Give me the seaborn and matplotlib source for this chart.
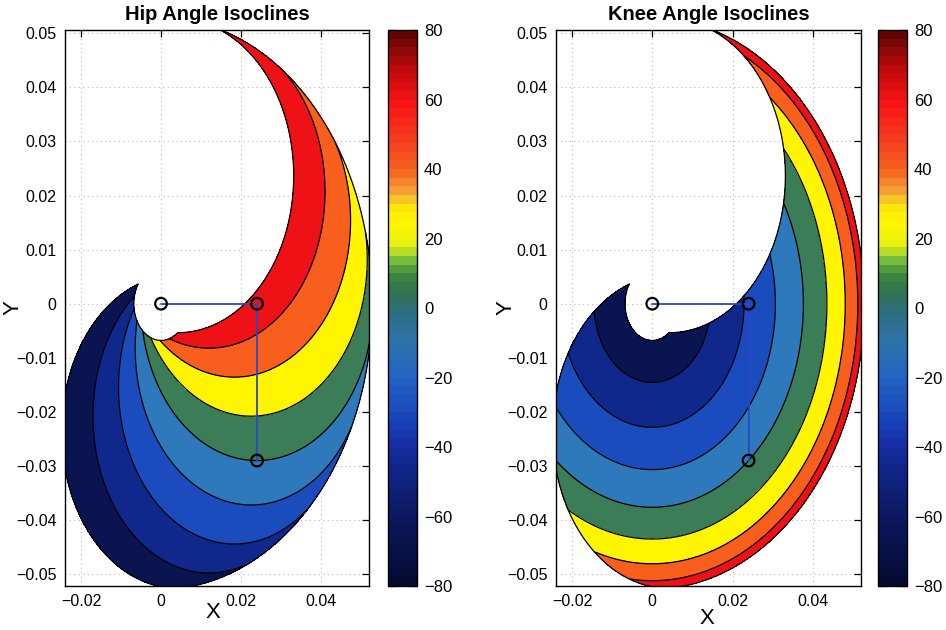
import numpy as np
import pandas as pd
import matplotlib
matplotlib.use("Agg")
import matplotlib.pyplot as plt
import seaborn as sns
from matplotlib.colors import LinearSegmentedColormap, ListedColormap, Normalize
from matplotlib.cm import ScalarMappable
from matplotlib.ticker import FixedLocator, FuncFormatter

# ---------------- data ----------------
THIGH_LENGTH = 0.024          # hip -> knee
SHANK_LENGTH = 0.029          # knee -> foot
HIP_RANGE_DEG = [-80, 80]     # hip angle span of the workspace
KNEE_RANGE_DEG = [-80, 80]    # knee angle span (0 = shank perpendicular to thigh)
ISOCLINE_LEVELS = [-80, -60, -40, -20, 0, 20, 40, 60, 80]
LEG_JOINT_X = [0.0, 0.024, 0.024]     # hip, knee, foot
LEG_JOINT_Y = [0.0, 0.0, -0.029]
PANEL_TITLES = ["Hip Angle Isoclines", "Knee Angle Isoclines"]
X_TICKS = [-0.02, 0, 0.02, 0.04]
Y_TICKS = [-0.05, -0.04, -0.03, -0.02, -0.01, 0, 0.01, 0.02, 0.03, 0.04, 0.05]
CBAR_TICKS = [-80, -60, -40, -20, 0, 20, 40, 60, 80]

# ---------------- styling ----------------
sns.set_style("white")
plt.rcParams["font.family"] = ["Liberation Sans", "DejaVu Sans"]
plt.rcParams["axes.unicode_minus"] = True
plt.rcParams["text.color"] = "black"
plt.rcParams["axes.labelcolor"] = "black"

BAND_COLORS = ["#0a1450", "#10288c", "#1a4cbe", "#2e78bc", "#3a7d57",
               "#fff500", "#f85f1c", "#ee1216"]
CBAR_ANCHORS = [(-80, (5, 10, 50)), (-70, (10, 18, 75)), (-60, (12, 25, 100)),
                (-50, (15, 35, 130)), (-40, (20, 45, 165)), (-30, (25, 75, 190)),
                (-20, (35, 100, 195)), (-10, (45, 115, 170)), (0, (45, 110, 120)),
                (5, (50, 115, 80)), (10, (60, 135, 60)), (15, (130, 200, 60)),
                (18, (230, 240, 20)), (25, (255, 245, 0)), (30, (250, 230, 10)),
                (33, (245, 170, 60)), (40, (245, 100, 30)), (50, (245, 60, 30)),
                (60, (250, 20, 20)), (70, (190, 10, 10)), (80, (100, 5, 5))]
_base = LinearSegmentedColormap.from_list(
    "leg", [((v + 80) / 160, tuple(c / 255 for c in rgb)) for v, rgb in CBAR_ANCHORS])
CBAR_CMAP = ListedColormap(_base(np.linspace(0, 1, 64)))

# ---------------- kinematics grid ----------------
hip = np.linspace(HIP_RANGE_DEG[0], HIP_RANGE_DEG[1], 241)
knee = np.linspace(KNEE_RANGE_DEG[0], KNEE_RANGE_DEG[1], 241)
H, K = np.meshgrid(hip, knee)
t1 = np.radians(H)
t12 = np.radians(H + K - 90)
FX = THIGH_LENGTH * np.cos(t1) + SHANK_LENGTH * np.cos(t12)
FY = THIGH_LENGTH * np.sin(t1) + SHANK_LENGTH * np.sin(t12)
fields = [H, K]

fill_levels = list(ISOCLINE_LEVELS)
fill_levels[0] -= 0.5
fill_levels[-1] += 0.5

boundary_x = np.concatenate([FX[0, :], FX[:, -1], FX[-1, ::-1], FX[::-1, 0]])
boundary_y = np.concatenate([FY[0, :], FY[:, -1], FY[-1, ::-1], FY[::-1, 0]])

leg = pd.DataFrame({"x": LEG_JOINT_X, "y": LEG_JOINT_Y})

fig = plt.figure(figsize=(9.46, 6.30), dpi=100)
ax_pos = [[0.0687, 0.0698, 0.3214, 0.8825], [0.5877, 0.0698, 0.3224, 0.8825]]
cb_pos = [[0.4101, 0.0698, 0.0307, 0.8825], [0.9281, 0.0698, 0.0307, 0.8825]]
xlab_coords = [(0.487, -0.029), (0.495, -0.040)]
ylab_coords = [(-0.135, 0.5), (-0.128, 0.5)]

fmt = FuncFormatter(lambda v, p: ("%g" % round(v, 4)).replace("-", "\u2212"))

for i in range(2):
    ax = fig.add_axes(ax_pos[i])
    ax.set_axisbelow(True)
    ax.grid(True, linestyle=(0, (1, 3)), color="#b8b8b8", linewidth=0.8)
    ax.contourf(FX, FY, fields[i], levels=fill_levels, colors=BAND_COLORS, zorder=2)
    ax.contour(FX, FY, fields[i], levels=ISOCLINE_LEVELS[1:-1], colors="black",
               linewidths=0.9, linestyles="solid", zorder=3)
    ax.plot(boundary_x, boundary_y, color="black", linewidth=0.9, zorder=3)
    sns.lineplot(data=leg, x="x", y="y", sort=False, estimator=None, ax=ax,
                 color="#2848c8", linewidth=1.3, zorder=4)
    sns.scatterplot(data=leg, x="x", y="y", ax=ax, s=70, facecolor="none",
                    edgecolor="black", linewidth=1.6, zorder=5)
    ax.set_xlim(-0.024, 0.052)
    ax.set_ylim(-0.0522, 0.0506)
    ax.xaxis.set_major_locator(FixedLocator(X_TICKS))
    ax.yaxis.set_major_locator(FixedLocator(Y_TICKS))
    ax.xaxis.set_major_formatter(fmt)
    ax.yaxis.set_major_formatter(fmt)
    ax.tick_params(direction="in", top=True, right=True, length=5, width=0.9,
                   labelsize=11.5, pad=6, colors="black")
    for s in ax.spines.values():
        s.set_visible(True)
        s.set_color("black")
        s.set_linewidth(1.0)
    ax.set_title(PANEL_TITLES[i], fontsize=14.5, fontweight="bold", pad=7,
                 color="black")
    ax.set_xlabel("X", fontsize=16)
    ax.set_ylabel("Y", fontsize=16)
    ax.xaxis.set_label_coords(*xlab_coords[i])
    ax.yaxis.set_label_coords(*ylab_coords[i])

    cax = fig.add_axes(cb_pos[i])
    cb = fig.colorbar(ScalarMappable(norm=Normalize(-80, 80), cmap=CBAR_CMAP), cax=cax)
    cb.set_ticks(CBAR_TICKS)
    cb.ax.yaxis.set_major_formatter(fmt)
    cb.ax.tick_params(direction="in", left=True, right=True, length=5, width=0.9,
                      labelsize=12, pad=5, colors="black")
    cb.outline.set_edgecolor("black")
    cb.outline.set_linewidth(1.0)

fig.savefig("out.png", dpi=100)
